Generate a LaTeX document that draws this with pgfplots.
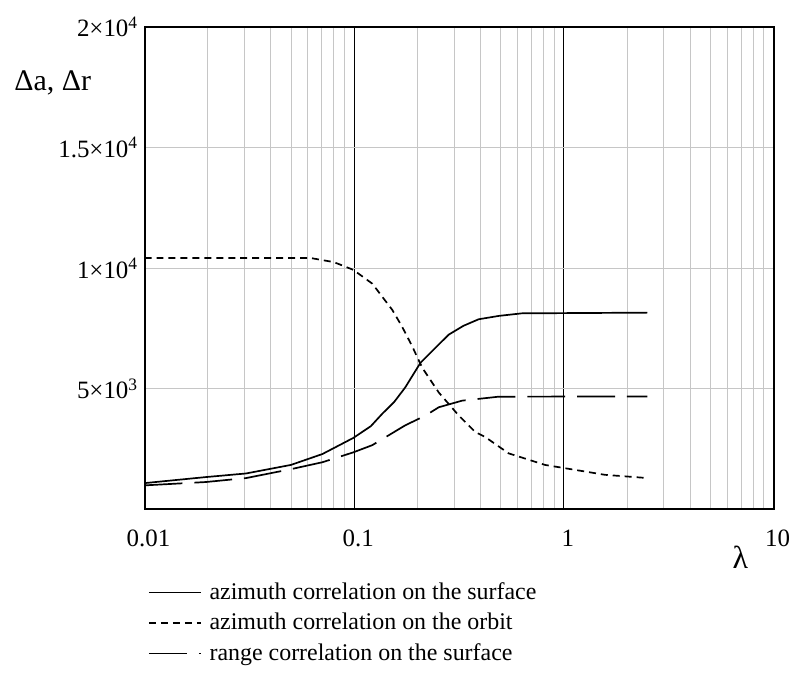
\documentclass[border=0pt]{standalone}
\usepackage{fontspec}
\setmainfont{Liberation Serif}
\usepackage{pgfplots}
\pgfplotsset{compat=1.18}

\begin{document}
\fontsize{12}{14}\selectfont
\begin{tikzpicture}
\begin{axis}[
    xmode=log,
    scale only axis,
    clip=false,
    width=315.5pt, height=242pt,
    xmin=0.01, xmax=10,
    ymin=0, ymax=20000,
    scaled y ticks=false,
    xtick={0.01,0.1,1,10},
    xticklabels={0.01,0.1,1,10},
    ytick={5000,10000,15000,20000},
    yticklabels={5×10\textsuperscript{3},1×10\textsuperscript{4},1.5×10\textsuperscript{4},2×10\textsuperscript{4}},
    major tick length=0pt, minor tick length=0pt,
    xmajorgrids, xminorgrids, ymajorgrids,
    major x grid style={black, line width=0.5pt},
    minor x grid style={gray!45, line width=0.5pt},
    major y grid style={gray!45, line width=0.5pt},
    axis line style={line width=1pt},
    xticklabel style={yshift=-6pt, xshift=2pt, font=\fontsize{12.5}{14}\selectfont},
    yticklabel style={xshift=1pt, font=\fontsize{12.5}{14}\selectfont},
    legend style={draw=none, fill=none, at={(rel axis cs:0.005,-0.140)}, anchor=north west,
        row sep=0pt, inner sep=0pt, font=\fontsize{12}{14}\selectfont,
        nodes={inner xsep=4pt, inner ysep=0.9pt, text height=10pt, text depth=3.5pt}},
    legend cell align=left,
    legend image code/.code={\draw[#1] (0pt,0pt) -- (26pt,0pt);},
]
% azimuth correlation on the surface
\addplot[black, line width=0.85pt] coordinates {
(0.01,1090)(0.0196,1340)(0.0305,1490)(0.0499,1844)(0.0705,2295)(0.099,2963)
(0.12,3450)(0.136,3963)(0.155,4450)(0.175,5053)(0.207,6078)(0.235,6557)(0.282,7242)
(0.332,7611)(0.392,7881)(0.488,8020)(0.629,8127)(2.5,8156)
};
\addlegendentry{azimuth correlation on the surface}
% azimuth correlation on the orbit
\addplot[black, line width=0.85pt, dash pattern=on 3.5pt off 2.5pt] coordinates {
(0.01,10420)(0.062,10420)(0.08,10250)(0.099,9930)(0.122,9357)(0.152,8266)(0.169,7582)
(0.189,6762)(0.211,5873)(0.253,4848)(0.315,3893)(0.378,3209)(0.421,3004)(0.545,2324)
(0.813,1844)(1.01,1709)(1.57,1434)(2.5,1300)
};
\addlegendentry{azimuth correlation on the orbit}
% range correlation on the surface
\addplot[black, line width=0.85pt, dash pattern=on 19pt off 6pt] coordinates {
(0.01,996)(0.0196,1135)(0.0305,1299)(0.0499,1668)(0.0705,1955)(0.099,2365)(0.122,2664)
(0.175,3484)(0.219,3893)(0.253,4234)(0.327,4508)(0.488,4672)(2.5,4684)
};
\addlegendentry{range correlation on the surface}
\node[font=\fontsize{15}{17}\selectfont] at (rel axis cs:-0.146,0.884) {Δa, Δr};
\node[font=\fontsize{16}{18}\selectfont] at (rel axis cs:0.947,-0.1) {λ};
\path (rel axis cs:-0.2298,1.0558) rectangle (rel axis cs:1.0349,-0.3388);
\end{axis}
\end{tikzpicture}
\end{document}
